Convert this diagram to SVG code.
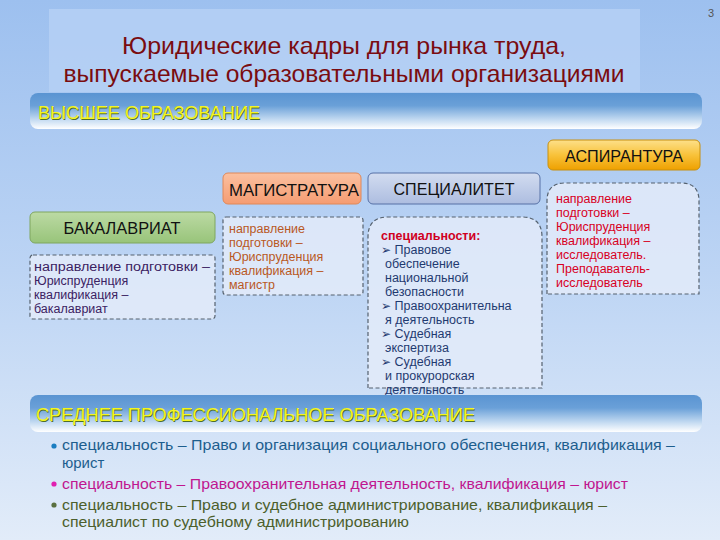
<svg xmlns="http://www.w3.org/2000/svg" width="720" height="540" viewBox="0 0 720 540">
<defs>
<linearGradient id="bg" x1="0" y1="0" x2="0" y2="1">
<stop offset="0" stop-color="#9dc0ef"/><stop offset="0.5" stop-color="#bcd4f4"/><stop offset="1" stop-color="#e2ecf9"/>
</linearGradient>
<linearGradient id="bar" x1="0" y1="0" x2="0" y2="1">
<stop offset="0" stop-color="#5a94d2"/><stop offset="0.35" stop-color="#6aa0d8"/><stop offset="0.75" stop-color="#c6dcf2"/><stop offset="1" stop-color="#ffffff"/>
</linearGradient>
<linearGradient id="gGold" x1="0" y1="0" x2="0" y2="1">
<stop offset="0" stop-color="#fde08a"/><stop offset="0.5" stop-color="#f8c23a"/><stop offset="1" stop-color="#eea000"/>
</linearGradient>
<linearGradient id="gSalmon" x1="0" y1="0" x2="0" y2="1">
<stop offset="0" stop-color="#fbc0a0"/><stop offset="1" stop-color="#f59c72"/>
</linearGradient>
<linearGradient id="gBlue" x1="0" y1="0" x2="0" y2="1">
<stop offset="0" stop-color="#d2dcf0"/><stop offset="1" stop-color="#adbde0"/>
</linearGradient>
<linearGradient id="gGreen" x1="0" y1="0" x2="0" y2="1">
<stop offset="0" stop-color="#bcdaa4"/><stop offset="1" stop-color="#98c47a"/>
</linearGradient>
<style>
text{font-family:"Liberation Sans","DejaVu Sans",sans-serif}
.title{font-size:24px;fill:#7a0c10;text-anchor:middle}
.bartxt{font-size:18px;fill:#f4f520}
.barsh{font-size:18px;fill:#4d6e2a}
.lbl{font-size:17px;fill:#111;text-anchor:middle}
.box{stroke-width:1}
.dash{fill:#e3ebf9;fill-opacity:0.85;stroke:#55616e;stroke-width:1.2;stroke-dasharray:4 2.5}
.t13{font-size:12.5px}
.bach{fill:#3b2262}
.mag{fill:#b9581f}
.spec{fill:#1f3a70}
.asp{fill:#d8001f}
.spo{font-size:15px}
.arr{font-family:"DejaVu Sans",sans-serif;font-size:12px}
</style>
</defs>
<rect x="0" y="0" width="720" height="540" fill="url(#bg)"/>
<text x="711" y="17" font-size="11" fill="#555" text-anchor="middle">3</text>

<g id="title">
<rect x="49" y="9" width="591" height="83" fill="#b7d1f5" fill-opacity="0.8"/>
<text class="title" x="344" y="54" textLength="444" lengthAdjust="spacingAndGlyphs">Юридические кадры для рынка труда,</text>
<text class="title" x="344" y="82" textLength="561" lengthAdjust="spacingAndGlyphs">выпускаемые образовательными организациями</text>
</g>

<g id="higher">
<rect x="30" y="93" width="672" height="36" rx="8" fill="url(#bar)"/>
<text class="barsh" x="38.8" y="119.8" textLength="222" lengthAdjust="spacingAndGlyphs">ВЫСШЕЕ ОБРАЗОВАНИЕ</text>
<text class="bartxt" x="38" y="119" textLength="222" lengthAdjust="spacingAndGlyphs">ВЫСШЕЕ ОБРАЗОВАНИЕ</text>
</g>

<g id="aspirantura">
<rect x="548" y="140" width="152" height="30" rx="5" fill="url(#gGold)" stroke="#c8900e" class="box"/>
<text class="lbl" x="624" y="162" textLength="118" lengthAdjust="spacingAndGlyphs">АСПИРАНТУРА</text>
</g>
<g id="aspirantura-text">
<path class="dash" d="M547 294 V201 Q547 183 565 183 H681 Q699 183 699 201 V294 Z"/>
<text class="t13 asp" x="556" y="203">направление</text>
<text class="t13 asp" x="556" y="217">подготовки –</text>
<text class="t13 asp" x="556" y="231">Юриспруденция</text>
<text class="t13 asp" x="556" y="245">квалификация –</text>
<text class="t13 asp" x="556" y="259">исследователь.</text>
<text class="t13 asp" x="556" y="273">Преподаватель-</text>
<text class="t13 asp" x="556" y="287">исследователь</text>
</g>

<g id="magistratura">
<rect x="223" y="173" width="138" height="31" rx="5" fill="url(#gSalmon)" stroke="#e08858" class="box"/>
<text class="lbl" x="294" y="196" textLength="130" lengthAdjust="spacingAndGlyphs">МАГИСТРАТУРА</text>
</g>
<g id="magistratura-text">
<rect class="dash" x="223" y="217" width="140" height="78" rx="3"/>
<text class="t13 mag" x="229" y="233">направление</text>
<text class="t13 mag" x="229" y="247">подготовки –</text>
<text class="t13 mag" x="229" y="261">Юриспруденция</text>
<text class="t13 mag" x="229" y="275">квалификация –</text>
<text class="t13 mag" x="229" y="289">магистр</text>
</g>

<g id="specialitet">
<rect x="368" y="173" width="172" height="31" rx="5" fill="url(#gBlue)" stroke="#5670a6" class="box"/>
<text class="lbl" x="454" y="195" textLength="121" lengthAdjust="spacingAndGlyphs">СПЕЦИАЛИТЕТ</text>
</g>
<g id="specialitet-text">
<path class="dash" d="M368 388 V237 Q368 217 388 217 H522 Q542 217 542 237 V388 Z"/>
<text class="t13" x="381" y="240" font-weight="bold" fill="#d0001e">специальности:</text>
<text class="t13 spec" x="381" y="254"><tspan class="arr">➢</tspan> Правовое</text>
<text class="t13 spec" x="385" y="268">обеспечение</text>
<text class="t13 spec" x="385" y="282">национальной</text>
<text class="t13 spec" x="385" y="296">безопасности</text>
<text class="t13 spec" x="381" y="310"><tspan class="arr">➢</tspan> Правоохранительна</text>
<text class="t13 spec" x="385" y="324">я деятельность</text>
<text class="t13 spec" x="381" y="338"><tspan class="arr">➢</tspan> Судебная</text>
<text class="t13 spec" x="385" y="352">экспертиза</text>
<text class="t13 spec" x="381" y="366"><tspan class="arr">➢</tspan> Судебная</text>
<text class="t13 spec" x="385" y="380">и прокурорская</text>
<text class="t13 spec" x="385" y="394">деятельность</text>
</g>

<g id="bakalavriat">
<rect x="30" y="212" width="185" height="31" rx="5" fill="url(#gGreen)" stroke="#7ea65f" class="box"/>
<text class="lbl" x="122" y="234" textLength="117" lengthAdjust="spacingAndGlyphs">БАКАЛАВРИАТ</text>
</g>
<g id="bakalavriat-text">
<rect class="dash" x="30" y="255" width="185" height="64" rx="3"/>
<text class="t13 bach" x="34" y="271" textLength="176" lengthAdjust="spacingAndGlyphs">направление подготовки –</text>
<text class="t13 bach" x="34" y="285">Юриспруденция</text>
<text class="t13 bach" x="34" y="299">квалификация –</text>
<text class="t13 bach" x="34" y="313">бакалавриат</text>
</g>

<g id="spo">
<rect x="30" y="395" width="672" height="37" rx="8" fill="url(#bar)"/>
<text class="barsh" x="36.8" y="421.8" textLength="439" lengthAdjust="spacingAndGlyphs">СРЕДНЕЕ ПРОФЕССИОНАЛЬНОЕ ОБРАЗОВАНИЕ</text>
<text class="bartxt" x="36" y="421" textLength="439" lengthAdjust="spacingAndGlyphs">СРЕДНЕЕ ПРОФЕССИОНАЛЬНОЕ ОБРАЗОВАНИЕ</text>
</g>

<g id="spo-list">
<circle cx="54" cy="446" r="2.6" fill="#1a7dc0"/>
<text class="spo" x="62" y="450" fill="#1d5e8e" textLength="613" lengthAdjust="spacingAndGlyphs">специальность – Право и организация социального обеспечения, квалификация –</text>
<text class="spo" x="62" y="468" fill="#1d5e8e">юрист</text>
<circle cx="54" cy="484" r="2.6" fill="#e020b0"/>
<text class="spo" x="62" y="489" fill="#c0168f" textLength="566" lengthAdjust="spacingAndGlyphs">специальность – Правоохранительная деятельность, квалификация – юрист</text>
<circle cx="54" cy="505" r="2.6" fill="#5a7040"/>
<text class="spo" x="62" y="510" fill="#4c5f2c" textLength="545" lengthAdjust="spacingAndGlyphs">специальность – Право и судебное администрирование, квалификация –</text>
<text class="spo" x="62" y="527" fill="#4c5f2c" textLength="347" lengthAdjust="spacingAndGlyphs">специалист по судебному администрированию</text>
</g>
</svg>
